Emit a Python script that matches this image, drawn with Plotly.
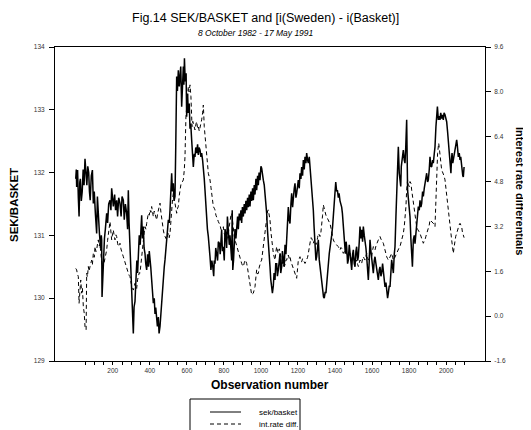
import plotly.graph_objects as go

# ---- data ----
sek_obs = [0,3,5,8,10,14,18,22,25,30,35,40,45,50,55,60,65,70,74,78,84,90,95,100,106,113,117,122,128,134,138,140,142,146,149,155,160,167,172,178,185,190,194,199,203,210,215,221,226,232,239,245,250,257,262,268,275,280,284,288,293,297,302,306,311,315,320,325,330,334,338,343,348,352,356,360,365,369,374,378,383,388,393,397,401,405,410,414,419,424,428,432,437,441,446,450,455,460,464,469,473,478,482,486,491,496,500,505,509,514,518,522,527,531,536,540,545,549,554,559,563,567,572,576,581,584,587,591,596,599,604,608,613,617,621,626,629,632,635,640,644,648,653,658,662,666,671,676,680,685,689,694,698,702,707,711,716,720,725,730,735,740,745,748,752,756,761,766,770,776,780,784,788,792,797,802,806,810,815,819,824,829,833,837,842,845,848,852,855,860,865,869,874,878,883,887,892,896,900,905,910,914,919,923,928,932,937,941,946,950,955,959,964,968,973,977,982,986,990,995,1000,1004,1008,1013,1018,1022,1026,1031,1035,1040,1044,1049,1053,1058,1062,1067,1071,1076,1080,1085,1089,1094,1098,1103,1107,1112,1116,1121,1126,1130,1135,1139,1144,1148,1152,1157,1162,1166,1171,1175,1180,1184,1189,1193,1198,1202,1207,1211,1216,1220,1225,1229,1234,1238,1243,1247,1252,1256,1261,1265,1270,1274,1279,1283,1287,1292,1297,1301,1306,1310,1315,1319,1323,1328,1333,1338,1342,1347,1351,1355,1359,1364,1369,1373,1377,1382,1387,1391,1396,1400,1404,1409,1413,1418,1422,1427,1431,1436,1440,1445,1449,1454,1456,1460,1463,1468,1472,1477,1481,1486,1490,1495,1499,1504,1508,1513,1517,1522,1526,1531,1535,1540,1544,1549,1553,1558,1562,1567,1571,1576,1580,1585,1589,1594,1598,1603,1607,1612,1616,1621,1625,1630,1634,1639,1643,1648,1652,1657,1661,1666,1670,1675,1679,1684,1688,1693,1697,1702,1706,1711,1715,1720,1724,1729,1733,1738,1742,1747,1751,1755,1758,1762,1766,1769,1774,1778,1782,1787,1792,1796,1801,1805,1810,1814,1818,1823,1828,1832,1837,1841,1846,1850,1855,1859,1864,1868,1873,1877,1882,1886,1891,1895,1900,1904,1909,1913,1918,1922,1927,1931,1936,1940,1945,1949,1953,1958,1962,1967,1971,1976,1980,1985,1989,1994,1998,2003,2008,2012,2017,2021,2026,2029,2032,2036,2039,2044,2048,2052,2057,2060,2062,2066,2071,2075,2079,2083,2086,2090,2093,2097]
sek_val = [131.90,132.05,131.77,132.00,132.04,131.60,131.30,131.85,131.90,131.55,131.70,132.05,131.80,132.22,131.90,131.80,132.10,132.00,131.70,131.56,131.95,132.04,131.51,131.70,131.35,131.03,131.62,131.20,131.03,130.80,131.00,130.93,130.02,130.40,130.61,130.95,131.10,131.35,131.20,131.50,131.56,131.40,131.75,131.55,131.46,131.65,131.40,131.56,131.30,131.60,131.51,131.30,131.62,131.56,131.25,131.50,131.35,131.10,131.72,131.20,130.82,130.40,129.97,129.70,129.44,129.86,129.95,130.29,130.60,130.40,130.71,131.00,130.85,131.20,131.32,130.95,131.14,130.80,130.71,130.55,130.45,130.70,130.50,130.75,130.66,130.50,130.29,130.10,129.92,130.00,129.75,129.85,129.70,129.55,129.70,129.44,129.55,129.80,129.97,130.20,130.35,130.50,130.61,130.80,130.98,131.10,131.25,131.20,131.40,131.70,131.99,131.70,131.83,131.55,131.62,132.40,133.53,133.30,133.63,133.37,133.55,133.69,133.05,133.50,133.69,133.40,133.82,133.45,133.58,132.89,133.26,132.95,133.10,132.70,132.78,132.52,132.35,132.20,132.09,132.30,132.25,132.40,132.31,132.45,132.28,132.40,132.36,132.25,132.31,132.20,132.09,131.90,131.72,131.50,131.30,131.10,130.98,130.75,130.66,130.45,130.60,130.50,130.35,130.60,130.55,130.80,130.71,130.60,130.90,130.87,130.70,131.00,131.09,130.75,130.82,130.60,131.10,131.03,130.80,131.30,131.14,130.85,131.00,130.87,130.60,131.40,130.45,130.60,130.82,131.10,130.95,131.14,131.30,131.10,131.35,131.24,131.40,131.20,131.45,131.30,131.50,131.35,131.55,131.40,131.60,131.45,131.65,131.46,131.70,131.55,131.75,131.56,131.80,131.65,131.90,131.72,131.95,131.80,132.00,131.88,132.10,132.07,131.95,131.88,131.80,131.67,131.50,131.35,131.10,130.93,130.70,130.50,130.30,130.15,130.08,130.20,130.40,130.29,130.55,130.55,130.35,130.45,130.65,130.71,130.40,130.50,130.75,130.66,130.50,130.85,130.70,130.93,131.20,131.45,131.25,131.19,131.50,131.67,131.45,131.62,131.75,131.83,131.60,131.67,131.85,131.88,131.75,131.99,131.90,132.09,131.95,132.20,132.05,132.25,132.15,132.31,132.20,132.15,132.25,132.09,131.95,131.88,131.62,131.40,131.14,130.82,130.60,130.66,130.80,130.93,130.61,130.50,130.40,130.20,130.08,130.02,130.00,130.10,130.08,130.25,130.40,130.55,130.71,130.80,130.87,131.00,131.14,131.35,131.56,131.75,131.85,131.70,131.72,131.60,131.67,131.55,131.51,131.45,131.35,131.10,130.93,130.75,130.71,130.90,130.82,130.55,130.61,130.85,130.71,130.50,130.45,130.70,130.77,130.55,130.50,130.75,130.82,130.60,130.66,130.90,131.14,130.95,131.09,130.90,131.14,131.00,130.93,130.80,130.66,130.50,130.29,130.60,130.93,130.75,130.66,130.50,130.40,130.60,130.66,130.55,130.45,130.35,130.29,130.45,130.50,130.35,130.40,130.55,130.45,130.30,130.18,130.25,130.13,130.00,130.08,130.20,130.18,130.45,130.61,130.50,130.40,130.70,130.82,131.30,131.78,132.10,132.41,131.99,131.85,131.78,132.10,132.25,132.30,132.36,132.20,132.15,132.40,132.84,131.72,131.60,131.46,131.30,130.93,130.70,130.50,130.93,131.00,130.87,131.05,131.14,131.30,131.46,131.40,131.56,131.45,131.51,131.70,131.62,131.75,131.83,131.90,131.99,131.85,131.88,132.05,132.25,132.10,132.09,132.20,132.15,132.30,132.41,132.73,132.90,133.05,132.84,132.90,132.84,132.95,132.86,132.92,132.84,132.95,132.92,132.85,132.81,132.65,132.52,132.35,132.25,131.99,132.20,132.31,132.15,132.20,132.30,132.31,132.40,132.52,132.45,132.41,132.25,132.31,132.20,132.25,132.10,132.04,131.95,131.93,132.09]

ird_obs = [0,5,9,14,18,22,27,32,36,41,46,50,56,59,63,68,72,77,81,86,90,95,100,104,109,113,118,122,127,131,136,140,145,149,154,158,163,167,172,176,181,185,190,194,199,203,208,212,217,221,226,230,235,239,244,248,253,257,262,266,271,275,280,284,289,293,298,302,307,311,316,320,325,329,334,338,343,347,352,356,361,365,370,374,379,383,388,392,397,401,406,410,415,419,424,428,433,437,442,446,451,455,460,464,469,473,478,482,487,491,496,500,505,509,514,518,523,527,532,536,541,545,550,554,559,563,568,572,577,581,586,590,595,599,603,608,612,617,622,625,628,632,635,640,644,649,653,658,662,667,671,676,680,685,689,694,698,702,707,712,716,721,725,730,734,739,743,748,752,757,761,766,770,775,779,784,788,793,797,802,806,811,815,820,824,829,833,838,842,847,851,856,860,865,869,874,878,883,887,892,896,901,905,910,914,919,923,928,932,937,941,946,950,955,959,964,968,973,977,982,986,991,995,1000,1004,1009,1013,1018,1022,1027,1031,1036,1040,1045,1049,1054,1058,1063,1067,1072,1076,1081,1085,1090,1094,1099,1103,1108,1112,1117,1121,1126,1130,1135,1139,1144,1148,1153,1157,1162,1166,1171,1175,1180,1184,1189,1193,1198,1202,1207,1211,1216,1220,1225,1229,1234,1238,1243,1247,1252,1256,1261,1265,1270,1274,1279,1283,1288,1292,1297,1301,1306,1310,1315,1319,1324,1328,1333,1337,1342,1346,1351,1355,1360,1364,1369,1373,1378,1382,1387,1391,1396,1400,1405,1409,1414,1418,1423,1427,1432,1436,1441,1445,1450,1454,1459,1463,1468,1472,1477,1481,1486,1490,1495,1499,1504,1508,1513,1517,1522,1526,1531,1535,1540,1544,1549,1553,1558,1562,1567,1571,1576,1580,1585,1589,1594,1598,1603,1607,1612,1616,1621,1625,1630,1634,1639,1643,1648,1652,1657,1661,1666,1670,1675,1679,1684,1688,1693,1697,1702,1706,1711,1715,1720,1724,1729,1733,1738,1742,1747,1751,1756,1760,1765,1769,1774,1778,1783,1787,1792,1796,1801,1805,1810,1814,1819,1823,1827,1830,1834,1838,1841,1846,1850,1855,1859,1864,1868,1873,1877,1882,1886,1891,1895,1900,1904,1909,1913,1918,1922,1927,1931,1936,1940,1945,1949,1954,1957,1960,1964,1967,1972,1976,1980,1985,1989,1994,1998,2003,2008,2012,2017,2021,2026,2030,2035,2039,2044,2048,2052,2057,2061,2066,2070,2075,2079,2084,2088,2093,2097]
ird_val = [1.70,1.65,1.50,1.41,0.46,1.10,1.29,0.82,1.00,0.34,0.10,-0.37,-0.49,1.53,1.40,1.77,1.60,1.77,1.90,2.00,1.85,2.24,2.10,2.48,2.30,2.36,2.60,2.72,2.50,2.60,2.20,2.00,1.70,1.77,1.95,2.12,2.30,2.36,2.70,2.95,3.20,3.37,3.00,2.72,2.95,3.07,2.85,2.72,2.90,2.84,2.60,2.48,2.55,2.60,2.40,2.24,2.20,2.12,2.00,1.88,1.80,1.65,1.60,1.53,1.45,1.41,1.20,1.05,1.00,0.93,1.10,1.17,1.05,0.99,1.30,1.41,1.55,1.53,1.90,2.12,2.40,2.72,3.00,3.19,3.10,3.31,3.55,3.67,3.60,3.79,3.70,3.91,3.70,3.55,3.75,3.67,3.50,3.43,3.65,3.79,3.95,4.03,3.70,3.43,3.20,3.07,2.90,2.84,2.80,2.72,2.85,2.95,2.80,2.95,3.40,3.91,4.20,4.38,4.20,4.14,3.90,3.67,3.85,3.91,4.30,4.62,4.70,4.74,4.80,4.86,5.20,5.69,7.12,7.50,7.71,8.19,8.00,8.25,7.83,7.20,6.76,6.95,6.88,6.70,6.64,6.85,6.94,6.70,6.76,6.60,6.70,6.85,7.00,7.25,7.53,6.76,6.50,6.28,5.81,5.40,5.09,5.00,4.86,4.60,4.38,4.20,3.91,3.85,3.79,3.60,3.55,3.45,3.37,3.30,3.25,3.10,3.07,3.15,3.19,2.95,2.84,2.75,2.72,2.85,2.95,3.20,3.43,3.60,3.67,3.30,3.07,2.85,2.72,2.60,2.48,2.35,2.24,2.20,2.12,2.00,1.88,1.80,1.77,1.90,2.00,1.95,1.88,1.70,1.53,1.25,1.05,0.85,0.76,0.80,0.82,0.95,1.05,1.40,1.65,1.50,1.53,1.75,1.88,1.95,2.00,2.30,2.48,2.80,2.95,3.40,3.67,3.75,3.79,3.60,3.43,3.00,2.72,2.40,2.24,2.10,2.00,2.30,2.48,2.30,2.24,2.40,2.20,2.10,2.06,1.90,1.77,1.85,1.82,2.00,2.00,2.15,2.18,2.05,2.12,1.95,1.88,1.75,1.65,1.60,1.53,1.45,1.35,1.70,2.00,2.05,2.12,1.95,1.94,2.05,2.00,1.90,1.88,1.95,2.00,2.10,2.24,2.50,2.72,2.80,2.78,2.65,2.60,2.70,2.72,2.55,2.60,2.80,2.95,2.90,2.84,3.00,3.19,3.60,3.97,3.80,3.67,3.60,3.55,3.45,3.37,3.35,3.31,3.10,2.95,2.80,2.72,2.65,2.60,2.55,2.54,2.50,2.48,2.40,2.36,2.45,2.42,2.30,2.24,2.30,2.36,2.25,2.24,2.15,2.12,2.20,2.24,2.10,2.00,2.05,2.12,1.95,1.88,1.95,2.00,1.85,1.77,1.90,2.00,1.95,1.88,2.05,2.12,2.05,2.00,2.15,2.24,2.10,2.00,2.15,2.24,2.20,2.12,2.35,2.48,2.40,2.36,2.50,2.60,2.65,2.72,2.80,2.84,2.75,2.72,2.65,2.60,2.45,2.36,2.25,2.12,2.05,2.00,2.05,2.12,2.20,2.24,2.10,2.00,2.05,2.12,2.20,2.24,2.30,2.36,2.45,2.48,2.60,2.72,2.80,2.95,3.20,3.43,3.90,4.50,4.86,4.70,4.62,4.80,4.74,4.50,4.26,4.00,3.79,3.60,3.43,3.35,3.19,3.10,3.07,3.00,2.95,2.85,2.72,2.65,2.60,2.68,2.72,2.85,2.95,3.00,3.07,3.25,3.43,3.40,3.37,3.35,3.31,3.25,3.19,4.14,5.09,5.81,6.00,6.17,5.95,5.69,5.40,5.21,5.15,5.09,5.00,4.86,4.60,4.26,3.95,3.67,3.40,3.19,2.95,2.72,2.45,2.24,2.50,2.72,2.85,2.95,3.05,3.19,3.25,3.31,3.25,3.19,3.00,2.84,2.80]

series_names = ["sek/basket", "int.rate diff."]
left_ticks = [129, 130, 131, 132, 133, 134]
right_ticks = [-1.6, 0.0, 1.6, 3.2, 4.8, 6.4, 8.0, 9.6]
x_ticks = list(range(50, 2101, 50))
x_labels = [str(v) if v % 200 == 0 else "" for v in x_ticks]

FONT = "Liberation Sans, Arial, sans-serif"
DASH = "4px,3px"

fig = go.Figure()
fig.add_trace(go.Scatter(x=sek_obs, y=sek_val, mode="lines", name=series_names[0],
                         line=dict(color="black", width=1.5), yaxis="y"))
fig.add_trace(go.Scatter(x=ird_obs, y=ird_val, mode="lines", name=series_names[1],
                         line=dict(color="black", width=1, dash=DASH), yaxis="y2"))

axis_common = dict(showgrid=False, zeroline=False, showline=True, linecolor="black",
                   linewidth=1, ticks="outside", tickcolor="black", tickwidth=1,
                   tickfont=dict(size=6.5, color="#333333", family=FONT))

# The page body adds an 8 px margin, so the figure is 8 px smaller than the window.
# Positions below are given in window pixels (plot area: x 55..485, y 47..361).
def px_x(p):
    return (p - 55) / 430.0

def px_y(p):
    return (361 - p) / 314.0

legend_rows = [412, 424]
shapes = [
    dict(type="rect", xref="paper", yref="paper", x0=px_x(190), x1=px_x(300),
         y0=px_y(445), y1=px_y(399), line=dict(color="black", width=1), fillcolor="white",
         layer="above"),
    dict(type="line", xref="paper", yref="paper", x0=px_x(210), x1=px_x(241),
         y0=px_y(legend_rows[0]), y1=px_y(legend_rows[0]), line=dict(color="black", width=1)),
    dict(type="line", xref="paper", yref="paper", x0=px_x(210), x1=px_x(241),
         y0=px_y(legend_rows[1]), y1=px_y(legend_rows[1]),
         line=dict(color="black", width=1, dash=DASH)),
]
legend_texts = [
    dict(text=series_names[i], xref="paper", yref="paper", x=px_x(257), y=px_y(legend_rows[i]),
         showarrow=False, font=dict(size=8, family=FONT), xanchor="left", yanchor="middle")
    for i in range(2)
]

fig.update_layout(
    width=523, height=422,
    margin=dict(l=47, r=46, t=39, b=69, autoexpand=False),
    paper_bgcolor="white", plot_bgcolor="white",
    font=dict(family=FONT, color="black"),
    xaxis=dict(range=[-112, 2210], tickvals=x_ticks, ticktext=x_labels, ticklen=3,
               mirror=True, **axis_common),
    yaxis=dict(range=[129, 134], tickvals=left_ticks, ticktext=[str(v) for v in left_ticks],
               ticklen=5, mirror=True, ticklabelstandoff=3, **axis_common),
    yaxis2=dict(range=[-1.6, 9.6], overlaying="y", side="right", tickvals=right_ticks,
                ticktext=["%.1f" % v for v in right_ticks], ticklen=5, ticklabelstandoff=2,
                **axis_common),
    showlegend=False,
    shapes=shapes,
    annotations=[
        dict(text="Fig.14 SEK/BASKET and [i(Sweden) - i(Basket)]", xref="paper", yref="paper",
             x=px_x(265), y=px_y(18), showarrow=False, font=dict(size=12.5, family=FONT),
             xanchor="center", yanchor="middle"),
        dict(text="<i>8 October 1982 - 17 May 1991</i>", xref="paper", yref="paper",
             x=px_x(256), y=px_y(33), showarrow=False, font=dict(size=8.5, family=FONT),
             xanchor="center", yanchor="middle"),
        dict(text="<b>SEK/BASKET</b>", xref="paper", yref="paper", x=px_x(14), y=px_y(205),
             textangle=-90, showarrow=False, font=dict(size=11.5, family=FONT),
             xanchor="center", yanchor="middle"),
        dict(text="<b>Interest rate differentials</b>", xref="paper", yref="paper",
             x=px_x(520), y=px_y(191), textangle=90, showarrow=False,
             font=dict(size=11, family=FONT), xanchor="center", yanchor="middle"),
        dict(text="<b>Observation number</b>", xref="paper", yref="paper", x=px_x(270),
             y=px_y(385), showarrow=False, font=dict(size=12, family=FONT),
             xanchor="center", yanchor="middle"),
    ] + legend_texts,
)

fig.write_html("out.html")
